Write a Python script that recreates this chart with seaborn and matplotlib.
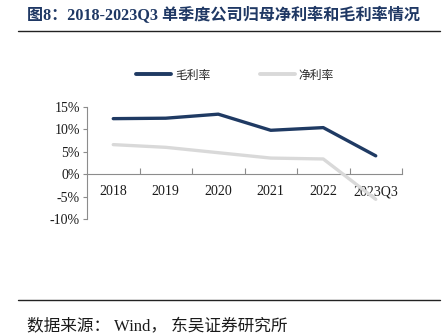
import matplotlib
matplotlib.use("Agg")
import matplotlib.pyplot as plt
import matplotlib.lines as mlines
from matplotlib.ticker import FixedLocator, FuncFormatter
import seaborn as sns
import pandas as pd

# Data
periods = ["2018", "2019", "2020", "2021", "2022", "2023Q3"]
gross_margin = [12.4, 12.5, 13.4, 9.8, 10.4, 4.1]
net_margin = [6.6, 6.0, 4.8, 3.6, 3.4, -5.6]
series_names = ["毛利率", "净利率"]
y_ticks = [-10, -5, 0, 5, 10, 15]

sns.set_theme(style="white")
plt.rcParams["font.family"] = ["Liberation Serif", "Noto Sans CJK SC", "DejaVu Sans"]
plt.rcParams["axes.unicode_minus"] = False

df = pd.DataFrame({
    "x": list(range(len(periods))) * 2,
    "value": gross_margin + net_margin,
    "series": [series_names[0]] * len(periods) + [series_names[1]] * len(periods),
})

colors = {"毛利率": "#1F3A63", "净利率": "#D9D9D9"}

fig = plt.figure(figsize=(4.48, 3.36), dpi=100)
ax = fig.add_axes([87 / 448, 1 - 219 / 336, (402 - 87) / 448, (219 - 107) / 336])

sns.lineplot(data=df, x="x", y="value", hue="series", palette=colors,
             linewidth=2.4, ax=ax, legend=False, zorder=3)

ax.set_xlim(-0.5, len(periods) - 0.5)
ax.set_ylim(-10, 15)
ax.set_xlabel("")
ax.set_ylabel("")

for s in ["top", "right"]:
    ax.spines[s].set_visible(False)
ax.spines["bottom"].set_position(("data", 0))
for s in ["left", "bottom"]:
    ax.spines[s].set_color("#8C8C8C")
    ax.spines[s].set_linewidth(0.8)

ax.yaxis.set_major_locator(FixedLocator(y_ticks))
ax.yaxis.set_major_formatter(FuncFormatter(lambda v, p: f"{int(v)}%"))
ax.tick_params(axis="y", which="major", direction="out", length=3, width=0.8,
               color="#8C8C8C", labelsize=10, labelcolor="#1A1A1A", pad=2, left=True)

ax.set_xticks(range(len(periods)))
ax.set_xticklabels(periods)
ax.set_xticks([i + 0.5 for i in range(len(periods))], minor=True)
ax.tick_params(axis="x", which="major", length=0, labelsize=10, labelcolor="#1A1A1A", pad=8)
ax.tick_params(axis="x", which="minor", direction="in", length=4, width=0.8,
               color="#8C8C8C", bottom=True)
ax.grid(False)

# Legend
handles = [mlines.Line2D([], [], color=colors[n], linewidth=2.8) for n in series_names]
fig.legend(handles, series_names, loc="center", bbox_to_anchor=(235 / 448, 1 - 75 / 336),
           ncol=2, frameon=False, handlelength=3.0, handletextpad=0.3,
           columnspacing=4.2, prop={"family": ["Noto Sans CJK SC"], "size": 8.5})

# Title and rules
fig.text(27 / 448, 1 - 16 / 336, "图8：2018-2023Q3 单季度公司归母净利率和毛利率情况",
         fontsize=11.6, fontweight="bold", color="#1F3864", va="center", ha="left",
         family=["Liberation Serif", "Noto Sans CJK SC"])
fig.add_artist(mlines.Line2D([18 / 448, 440 / 448], [1 - 31 / 336, 1 - 31 / 336],
                             color="#222222", linewidth=1.0))
fig.add_artist(mlines.Line2D([18 / 448, 440 / 448], [1 - 300 / 336, 1 - 300 / 336],
                             color="#222222", linewidth=1.0))
fig.text(27 / 448, 1 - 327 / 336, "数据来源： Wind， 东吴证券研究所", fontsize=12,
         color="#1A1A1A", va="center", ha="left",
         family=["Liberation Serif", "Noto Sans CJK SC"])

fig.savefig("out.png", dpi=100)
